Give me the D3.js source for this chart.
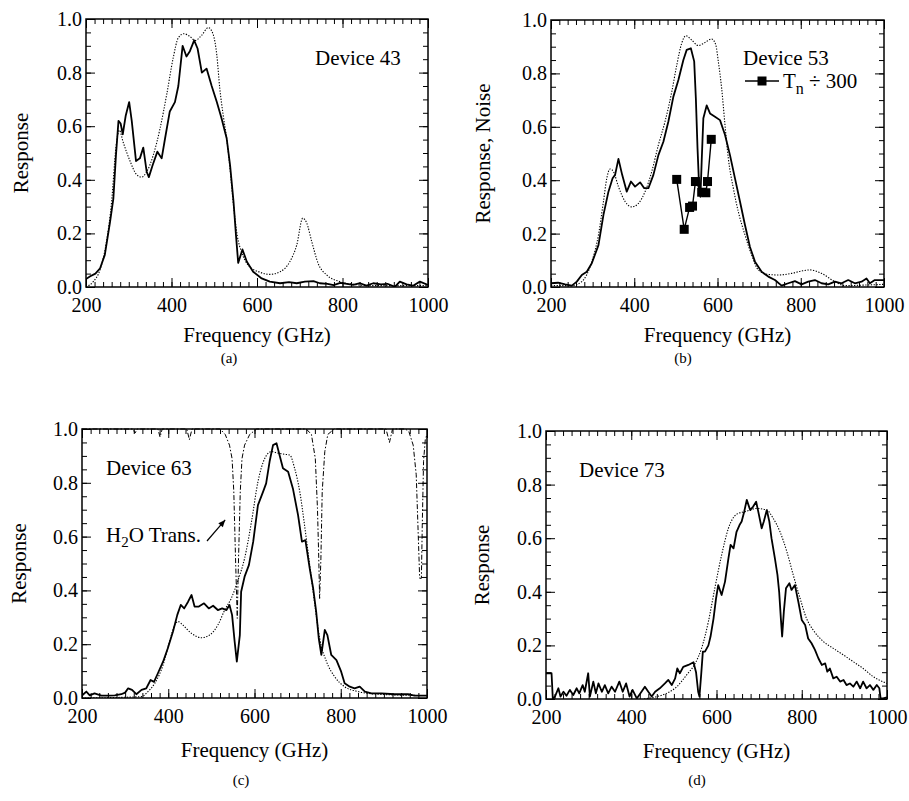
<!DOCTYPE html>
<html><head><meta charset="utf-8">
<script src="https://cdn.jsdelivr.net/npm/d3@7"></script>
<style>
body{margin:0;background:#fff}
svg{display:block}
text{font-family:"Liberation Serif","Times New Roman",serif;fill:#000}
</style>
</head><body>
<svg id="chart" width="909" height="801"></svg>
<script>
// ---------------- DATA ----------------
const xTickValues = [200, 400, 600, 800, 1000];
const yTickValues = [0, 0.2, 0.4, 0.6, 0.8, 1.0];

// Panel (a) Device 43
const dev43Measured = [[200,0.03],[210,0.04],[222,0.05],[233,0.07],[244,0.12],[256,0.24],[264,0.33],[270,0.49],[276,0.62],[281,0.61],[286,0.57],[293,0.64],[301,0.69],[307,0.62],[317,0.47],[326,0.48],[334,0.52],[342,0.43],[347,0.41],[356,0.455],[367,0.505],[377,0.48],[385,0.555],[396,0.655],[408,0.69],[416,0.75],[426,0.9],[435,0.86],[443,0.88],[453,0.92],[461,0.89],[471,0.80],[482,0.815],[494,0.75],[506,0.69],[517,0.63],[529,0.555],[537,0.455],[545,0.32],[551,0.19],[556,0.09],[566,0.14],[576,0.095],[591,0.057],[611,0.032],[630,0.02],[654,0.014],[675,0.018],[693,0.014],[712,0.02],[732,0.022],[747,0.014],[765,0.012],[779,0.007],[795,0.015],[810,0.012],[825,0.008],[841,0.014],[856,0.005],[872,0.014],[890,0.01],[905,0.012],[923,0.001],[934,0.02],[950,0.01],[965,0.005],[981,0.02],[1000,0.008]];
const dev43Model = [[200,0.0],[217,0.02],[233,0.065],[248,0.17],[260,0.32],[270,0.52],[278,0.585],[287,0.54],[303,0.47],[318,0.42],[330,0.41],[342,0.43],[357,0.49],[373,0.59],[389,0.72],[404,0.855],[416,0.93],[429,0.945],[443,0.935],[455,0.92],[471,0.94],[486,0.968],[498,0.94],[506,0.865],[513,0.74],[521,0.64],[529,0.555],[537,0.44],[546,0.29],[554,0.19],[564,0.13],[580,0.08],[607,0.055],[630,0.047],[654,0.057],[677,0.095],[693,0.157],[707,0.257],[716,0.24],[728,0.17],[743,0.088],[763,0.045],[794,0.02],[825,0.01],[870,0.005],[1000,0.005]];

// Panel (b) Device 53
const dev53Measured = [[200,0.014],[217,0.016],[234,0.01],[250,0.005],[262,0.02],[274,0.045],[286,0.057],[298,0.089],[314,0.157],[326,0.27],[338,0.357],[348,0.407],[354,0.42],[362,0.48],[371,0.42],[382,0.357],[392,0.395],[402,0.376],[414,0.392],[424,0.37],[434,0.37],[446,0.42],[458,0.494],[470,0.544],[482,0.62],[494,0.713],[506,0.775],[518,0.85],[526,0.888],[536,0.894],[544,0.845],[548,0.707],[552,0.52],[556,0.37],[559,0.338],[562,0.47],[566,0.632],[574,0.68],[582,0.65],[594,0.638],[606,0.625],[618,0.57],[630,0.494],[642,0.407],[654,0.32],[666,0.232],[678,0.15],[690,0.095],[706,0.057],[722,0.039],[738,0.026],[754,0.005],[770,0.014],[786,0.022],[802,0.01],[818,0.02],[834,0.026],[850,0.014],[866,0.01],[882,0.02],[898,0.014],[914,0.026],[930,0.014],[946,0.02],[958,0.032],[966,0.014],[978,0.026],[1000,0.026]];
const dev53Model = [[200,0.005],[250,0.005],[274,0.02],[298,0.095],[314,0.195],[326,0.32],[334,0.407],[342,0.442],[350,0.432],[362,0.376],[378,0.32],[394,0.30],[410,0.313],[426,0.357],[442,0.432],[458,0.532],[474,0.62],[490,0.73],[502,0.83],[514,0.913],[524,0.941],[538,0.925],[554,0.904],[570,0.916],[586,0.929],[596,0.906],[602,0.844],[610,0.744],[618,0.607],[626,0.482],[638,0.37],[650,0.282],[666,0.195],[682,0.12],[698,0.064],[722,0.047],[746,0.045],[778,0.051],[802,0.06],[822,0.064],[850,0.051],[882,0.02],[906,0.005],[950,0.007],[1000,0.01]];
const dev53NoiseFreq = [502, 520, 533, 540, 547, 562, 572, 576, 585];
const dev53NoiseTn = [0.403, 0.216, 0.298, 0.303, 0.395, 0.355, 0.353, 0.395, 0.553];

// Panel (c) Device 63
const dev63Measured = [[200,0.009],[210,0.024],[218,0.01],[229,0.017],[245,0.009],[260,0.009],[276,0.01],[291,0.014],[300,0.02],[307,0.036],[316,0.03],[326,0.014],[338,0.03],[349,0.036],[359,0.067],[367,0.06],[376,0.092],[388,0.135],[399,0.185],[411,0.247],[421,0.309],[429,0.346],[437,0.333],[446,0.358],[454,0.383],[461,0.34],[471,0.34],[483,0.352],[494,0.333],[504,0.343],[515,0.327],[525,0.333],[535,0.327],[542,0.346],[548,0.309],[554,0.209],[559,0.135],[566,0.234],[569,0.395],[577,0.451],[587,0.494],[597,0.581],[608,0.717],[620,0.767],[627,0.798],[635,0.879],[643,0.94],[651,0.947],[658,0.903],[666,0.854],[678,0.841],[689,0.779],[701,0.68],[710,0.581],[718,0.587],[728,0.482],[736,0.408],[743,0.321],[749,0.222],[755,0.16],[763,0.253],[769,0.234],[778,0.16],[790,0.141],[801,0.098],[809,0.055],[821,0.042],[832,0.036],[844,0.042],[856,0.024],[871,0.017],[894,0.017],[925,0.014],[956,0.014],[971,0.009],[1000,0.009]];
const dev63Model = [[200,0.0],[338,0.005],[353,0.024],[369,0.055],[388,0.123],[403,0.21],[415,0.271],[423,0.284],[434,0.271],[454,0.24],[477,0.224],[496,0.234],[515,0.271],[531,0.327],[546,0.37],[562,0.439],[577,0.519],[593,0.655],[608,0.804],[624,0.891],[639,0.916],[655,0.91],[670,0.906],[682,0.903],[693,0.854],[705,0.767],[716,0.643],[728,0.494],[740,0.346],[751,0.222],[767,0.135],[786,0.079],[809,0.042],[840,0.024],[886,0.014],[1000,0.009]];
const h2oTransmission = [[200,1.0],[318,1.0],[323,0.985],[328,1.0],[376,1.0],[381,0.97],[386,1.0],[443,1.0],[449,0.96],[455,1.0],[520,1.0],[532,0.98],[542,0.94],[548,0.89],[552,0.767],[556,0.52],[560,0.296],[563,0.52],[567,0.767],[571,0.89],[577,0.94],[589,0.98],[605,1.0],[720,1.0],[732,0.98],[741,0.89],[746,0.705],[749,0.52],[751,0.37],[754,0.52],[757,0.767],[763,0.916],[770,0.98],[785,1.0],[905,1.0],[913,0.95],[920,1.0],[950,1.0],[958,0.99],[968,0.94],[975,0.83],[979,0.64],[983,0.445],[987,0.445],[989,0.64],[992,0.88],[996,0.96],[1000,0.98]];

// Panel (d) Device 73
const dev73Measured = [[200,0.096],[213,0.096],[216,0.0],[221,0.009],[229,0.04],[234,0.009],[241,0.027],[248,0.012],[256,0.034],[264,0.015],[272,0.04],[278,0.021],[286,0.052],[291,0.027],[299,0.096],[303,0.009],[311,0.065],[317,0.021],[323,0.058],[331,0.027],[338,0.052],[346,0.021],[354,0.046],[362,0.027],[372,0.065],[380,0.027],[388,0.058],[396,0.009],[403,0.034],[413,0.002],[424,0.027],[432,0.046],[440,0.027],[448,0.009],[456,0.027],[467,0.04],[479,0.058],[487,0.071],[495,0.052],[503,0.077],[508,0.114],[514,0.096],[522,0.12],[534,0.127],[546,0.137],[552,0.1],[557,0.027],[560,0.009],[564,0.09],[568,0.177],[573,0.177],[581,0.2],[586,0.233],[593,0.3],[599,0.376],[604,0.425],[612,0.388],[620,0.438],[628,0.525],[633,0.575],[640,0.562],[647,0.624],[654,0.649],[659,0.662],[665,0.699],[671,0.743],[679,0.705],[686,0.718],[693,0.736],[698,0.699],[706,0.637],[711,0.662],[718,0.705],[724,0.662],[729,0.6],[737,0.525],[743,0.463],[747,0.4],[751,0.3],[754,0.233],[758,0.326],[763,0.413],[771,0.432],[776,0.407],[784,0.425],[792,0.363],[800,0.295],[808,0.276],[815,0.226],[823,0.208],[831,0.183],[839,0.152],[847,0.127],[855,0.133],[860,0.102],[866,0.114],[874,0.077],[882,0.083],[890,0.065],[898,0.071],[905,0.052],[913,0.058],[921,0.046],[929,0.065],[937,0.04],[944,0.065],[952,0.04],[960,0.052],[968,0.034],[976,0.052],[982,0.04],[985,0.002],[991,0.002],[1000,0.006]];
const dev73Model = [[430,0.0],[460,0.009],[483,0.021],[507,0.046],[530,0.09],[550,0.133],[565,0.189],[581,0.289],[596,0.413],[612,0.537],[628,0.637],[647,0.689],[671,0.701],[694,0.711],[718,0.705],[733,0.674],[749,0.624],[765,0.55],[780,0.463],[796,0.376],[811,0.301],[827,0.257],[851,0.214],[874,0.189],[898,0.164],[921,0.139],[944,0.114],[968,0.083],[1000,0.058]];

// ---------------- DRAWING ----------------
const svg = d3.select('#chart');
const FONT = '"Liberation Serif","Times New Roman",serif';

const panels = [
  {id:'a', x0:86, x1:428, y0:19, y1:287, ylab:'Response', ylabX:28, tag:'(a)', tagX:229, freqDy:55, tagDy:76,
   measured:dev43Measured, model:dev43Model, device:'Device 43', devX:315, devY:65},
  {id:'b', x0:551, x1:884, y0:20, y1:287, ylab:'Response, Noise', ylabX:490, tag:'(b)', tagX:683, freqDy:55, tagDy:76,
   measured:dev53Measured, model:dev53Model, device:'Device 53', devX:743, devY:65},
  {id:'c', x0:82, x1:427, y0:429, y1:698, ylab:'Response', ylabX:26, tag:'(c)', tagX:241, freqDy:59, tagDy:87,
   measured:dev63Measured, model:dev63Model, device:'Device 63', devX:106, devY:475},
  {id:'d', x0:546, x1:887, y0:431, y1:699, ylab:'Response', ylabX:489, tag:'(d)', tagX:697, freqDy:59, tagDy:86,
   measured:dev73Measured, model:dev73Model, device:'Device 73', devX:579, devY:477}
];

const minorX = d3.range(200, 1001, 20);
const minorY = d3.range(0, 1.0001, 0.05);

function styleAxis(sel){
  sel.select('.domain').remove();
  sel.selectAll('.tick line').attr('stroke','#000').attr('stroke-width',1);
  sel.selectAll('text').attr('font-family',FONT).attr('font-size',20).attr('fill','#000');
}

panels.forEach(p => {
  const x = d3.scaleLinear().domain([200,1000]).range([p.x0,p.x1]);
  const y = d3.scaleLinear().domain([0,1]).range([p.y1,p.y0]);
  const g = svg.append('g');
  const clipId = 'clip-' + p.id;
  svg.append('clipPath').attr('id',clipId).append('rect')
    .attr('x',p.x0).attr('y',p.y0-3).attr('width',p.x1-p.x0).attr('height',p.y1-p.y0+3);

  // minor ticks
  g.append('g').attr('transform',`translate(0,${p.y1})`)
    .call(d3.axisBottom(x).tickValues(minorX).tickSize(-5).tickFormat('')).call(styleAxis);
  g.append('g').attr('transform',`translate(0,${p.y0})`)
    .call(d3.axisTop(x).tickValues(minorX).tickSize(-5).tickFormat('')).call(styleAxis);
  g.append('g').attr('transform',`translate(${p.x0},0)`)
    .call(d3.axisLeft(y).tickValues(minorY).tickSize(-5).tickFormat('')).call(styleAxis);
  g.append('g').attr('transform',`translate(${p.x1},0)`)
    .call(d3.axisRight(y).tickValues(minorY).tickSize(-5).tickFormat('')).call(styleAxis);
  // major ticks
  g.append('g').attr('transform',`translate(0,${p.y1})`)
    .call(d3.axisBottom(x).tickValues(xTickValues).tickSize(-9).tickPadding(11).tickFormat(d3.format('d'))).call(styleAxis);
  g.append('g').attr('transform',`translate(0,${p.y0})`)
    .call(d3.axisTop(x).tickValues(xTickValues).tickSize(-9).tickFormat('')).call(styleAxis);
  g.append('g').attr('transform',`translate(${p.x0},0)`)
    .call(d3.axisLeft(y).tickValues(yTickValues).tickSize(-9).tickPadding(4).tickFormat(d3.format('.1f'))).call(styleAxis);
  g.append('g').attr('transform',`translate(${p.x1},0)`)
    .call(d3.axisRight(y).tickValues(yTickValues).tickSize(-9).tickFormat('')).call(styleAxis);

  // frame
  g.append('rect').attr('x',p.x0).attr('y',p.y0).attr('width',p.x1-p.x0).attr('height',p.y1-p.y0)
    .attr('fill','none').attr('stroke','#000').attr('stroke-width',1.5);

  const line = d3.line().x(d=>x(d[0])).y(d=>y(d[1]));
  const plot = g.append('g').attr('clip-path',`url(#${clipId})`);

  if (p.id === 'c') {
    plot.append('path').datum(h2oTransmission).attr('d',line)
      .attr('fill','none').attr('stroke','#000').attr('stroke-width',1)
      .attr('stroke-dasharray','5,2,1.5,2');
  }
  plot.append('path').datum(p.model).attr('d',line.curve(d3.curveMonotoneX))
    .attr('fill','none').attr('stroke','#000').attr('stroke-width',1.1)
    .attr('stroke-dasharray','1.3,1.5');
  line.curve(d3.curveLinear);
  plot.append('path').datum(p.measured).attr('d',line)
    .attr('fill','none').attr('stroke','#000').attr('stroke-width',1.8)
    .attr('stroke-linejoin','round');

  if (p.id === 'b') {
    const pts = dev53NoiseFreq.map((f,i)=>[f, dev53NoiseTn[i]]);
    plot.append('path').datum(pts).attr('d',line)
      .attr('fill','none').attr('stroke','#000').attr('stroke-width',1.4);
    plot.selectAll('rect.sq').data(pts).enter().append('rect')
      .attr('x',d=>x(d[0])-4.5).attr('y',d=>y(d[1])-4.5).attr('width',9).attr('height',9).attr('fill','#000');
    // legend
    const lg = g.append('g');
    lg.append('line').attr('x1',745).attr('x2',779).attr('y1',81).attr('y2',81).attr('stroke','#000').attr('stroke-width',1.4);
    lg.append('rect').attr('x',757.5).attr('y',76.5).attr('width',9).attr('height',9).attr('fill','#000');
    const t = lg.append('text').attr('x',783).attr('y',88).attr('font-size',21);
    t.append('tspan').text('T');
    t.append('tspan').attr('dy',6).attr('font-size',16).text('n');
    t.append('tspan').attr('dy',-6).text(' \u00f7 300');
  }

  if (p.id === 'c') {
    const t = g.append('text').attr('x',106).attr('y',542).attr('font-size',21);
    t.append('tspan').text('H');
    t.append('tspan').attr('dy',5).attr('font-size',15).text('2');
    t.append('tspan').attr('dy',-5).text('O Trans.');
    const ax0 = 207, ay0 = 541, ax1 = x(532), ay1 = y(0.662);
    g.append('line').attr('x1',ax0).attr('y1',ay0).attr('x2',ax1).attr('y2',ay1)
      .attr('stroke','#000').attr('stroke-width',1.2);
    const ang = Math.atan2(ay1-ay0, ax1-ax0);
    const L = 7, W = 3;
    const bx = ax1 - L*Math.cos(ang), by = ay1 - L*Math.sin(ang);
    g.append('path').attr('d',`M${ax1},${ay1}L${bx - W*Math.sin(ang)},${by + W*Math.cos(ang)}L${bx + W*Math.sin(ang)},${by - W*Math.cos(ang)}Z`).attr('fill','#000');
  }

  // device label
  g.append('text').attr('x',p.devX).attr('y',p.devY).attr('font-size',21).text(p.device);

  // axis labels
  const cx = (p.x0+p.x1)/2, cy = (p.y0+p.y1)/2;
  g.append('text').attr('x',cx).attr('y',p.y1+p.freqDy).attr('text-anchor','middle').attr('font-size',21).text('Frequency (GHz)');
  g.append('text').attr('transform',`translate(${p.ylabX},${cy}) rotate(-90)`).attr('text-anchor','middle').attr('font-size',21).text(p.ylab);
  g.append('text').attr('x',p.tagX).attr('y',p.y1+p.tagDy).attr('text-anchor','middle').attr('font-size',15).text(p.tag);
});
</script>
</body></html>
